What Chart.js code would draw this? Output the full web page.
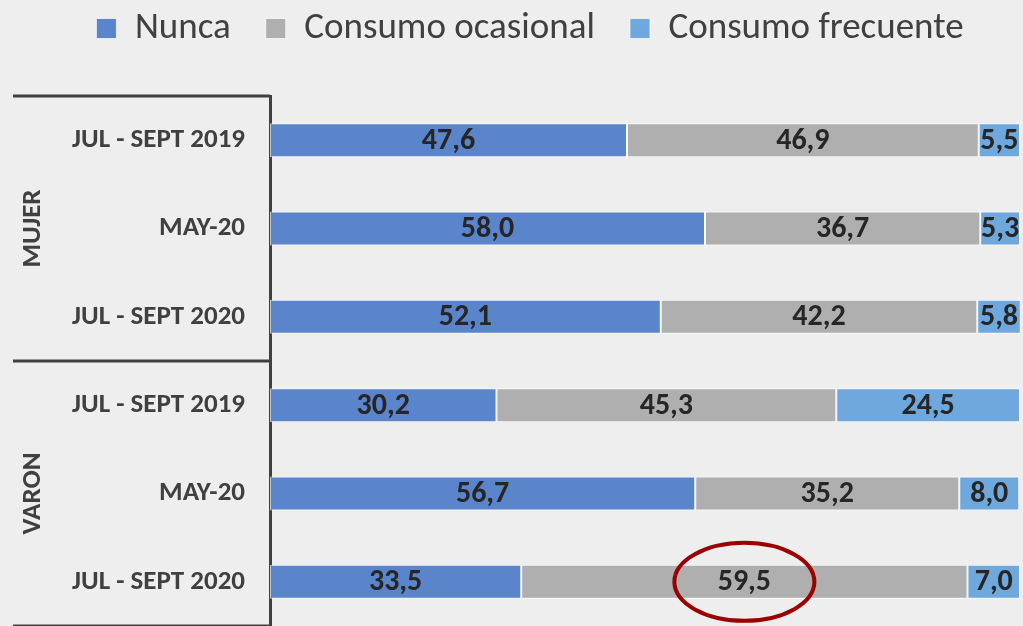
<!DOCTYPE html>
<html>
<head>
<meta charset="utf-8">
<script src="https://cdn.jsdelivr.net/npm/chart.js@4"></script>
<style>
    body { margin: 0; background: #edeeed; }
    canvas { display: block; }
</style>
</head>
<body>
<canvas id="consumoChart" width="1023" height="626"></canvas>
<script>
// Chart data
const periods = ['JUL - SEPT 2019', 'MAY-20', 'JUL - SEPT 2020', 'JUL - SEPT 2019', 'MAY-20', 'JUL - SEPT 2020'];
const groups = ['MUJER', 'VARON'];
const groupSize = 3;
const nunca = [47.6, 58.0, 52.1, 30.2, 56.7, 33.5];
const ocasional = [46.9, 36.7, 42.2, 45.3, 35.2, 59.5];
const frecuente = [5.5, 5.3, 5.8, 24.5, 8.0, 7.0];
const seriesNames = ['Nunca', 'Consumo ocasional', 'Consumo frecuente'];
const seriesColors = ['#5b85cb', '#afafaf', '#6fa8dc'];
// bar that gets the red circle
const highlight = { dataset: 1, index: 5 };

const FONT = 'Carlito, "Liberation Sans Narrow", "Open Sans", sans-serif';
const TEXT_DARK = '#262626';
const AXIS_COLOR = '#404040';

// fixed legend height, and pull the items up a bit (padding is used as item gap)
const legendHeight = {
    id: 'legendHeight',
    beforeInit(chart) {
        const legend = chart.legend;
        const fit = legend.fit;
        const draw = legend.draw;
        legend.fit = function () {
            fit.call(legend);
            this.height = 96;
        };
        legend.draw = function () {
            chart.ctx.save();
            chart.ctx.translate(0, -25);
            draw.call(legend);
            chart.ctx.restore();
        };
    }
};

// value labels in the middle of each segment + highlight ellipse
const valueLabels = {
    id: 'valueLabels',
    afterDatasetsDraw(chart) {
        const ctx = chart.ctx;
        ctx.save();
        ctx.font = `bold 30px ${FONT}`;
        ctx.fillStyle = TEXT_DARK;
        ctx.textAlign = 'center';
        ctx.textBaseline = 'middle';
        chart.data.datasets.forEach((ds, i) => {
            chart.getDatasetMeta(i).data.forEach((bar, j) => {
                const x = (bar.x + bar.base) / 2;
                ctx.fillText(ds.data[j].toFixed(1).replace('.', ','), x, bar.y + 1);
            });
        });

        const target = chart.getDatasetMeta(highlight.dataset).data[highlight.index];
        ctx.beginPath();
        ctx.ellipse((target.x + target.base) / 2, target.y, 70, 39, 0, 0, Math.PI * 2);
        ctx.strokeStyle = '#9a0000';
        ctx.lineWidth = 4;
        ctx.stroke();
        ctx.restore();
    }
};

// group labels (MUJER / VARON) and the separator lines on the left
const groupAxis = {
    id: 'groupAxis',
    afterDraw(chart) {
        const ctx = chart.ctx;
        const yScale = chart.scales.y;
        const band = yScale.getPixelForValue(1) - yScale.getPixelForValue(0);
        const left = 13;
        const right = chart.chartArea.left;
        ctx.save();
        ctx.strokeStyle = AXIS_COLOR;
        ctx.lineWidth = 3;
        for (let g = 0; g <= groups.length; g++) {
            const y = yScale.getPixelForValue(g * groupSize) - band / 2;
            ctx.beginPath();
            ctx.moveTo(left, y);
            ctx.lineTo(right, y);
            ctx.stroke();
        }
        ctx.font = `bold 27px ${FONT}`;
        ctx.fillStyle = AXIS_COLOR;
        ctx.textAlign = 'center';
        ctx.textBaseline = 'middle';
        groups.forEach((name, g) => {
            const y0 = yScale.getPixelForValue(g * groupSize);
            const y1 = yScale.getPixelForValue(g * groupSize + groupSize - 1);
            ctx.save();
            ctx.translate(33, (y0 + y1) / 2);
            ctx.rotate(-Math.PI / 2);
            ctx.fillText(name, 0, 0);
            ctx.restore();
        });
        ctx.restore();
    }
};

function buildChart() {
    const ctx = document.getElementById('consumoChart');
    const values = [nunca, ocasional, frecuente];

    new Chart(ctx, {
        type: 'bar',
        data: {
            labels: periods,
            datasets: values.map((data, i) => ({
                label: seriesNames[i],
                data: data,
                backgroundColor: seriesColors[i],
                borderColor: 'rgba(255, 255, 255, 0.7)',
                borderWidth: 1,
                borderSkipped: false,
                categoryPercentage: 1,
                barPercentage: 0.385
            }))
        },
        options: {
            indexAxis: 'y',
            responsive: false,
            animation: false,
            layout: { padding: { left: 40, right: 3, top: 0, bottom: 0 } },
            scales: {
                x: {
                    stacked: true,
                    display: false,
                    min: 0,
                    max: 100
                },
                y: {
                    stacked: true,
                    grid: { display: false, drawTicks: false },
                    border: { display: true, color: AXIS_COLOR, width: 3 },
                    afterFit(scale) {
                        scale.width = 230;
                        scale.paddingTop = 0;
                        scale.paddingBottom = 0;
                    },
                    ticks: {
                        padding: 25,
                        color: AXIS_COLOR,
                        font: { family: FONT, size: 27, weight: 'bold' }
                    }
                }
            },
            plugins: {
                legend: {
                    position: 'top',
                    labels: {
                        boxWidth: 20,
                        boxHeight: 20,
                        padding: 35,
                        color: '#404040',
                        font: { family: FONT, size: 37 }
                    }
                },
                tooltip: { enabled: false }
            }
        },
        plugins: [legendHeight, valueLabels, groupAxis]
    });
}

document.addEventListener('DOMContentLoaded', buildChart);
</script>
</body>
</html>
